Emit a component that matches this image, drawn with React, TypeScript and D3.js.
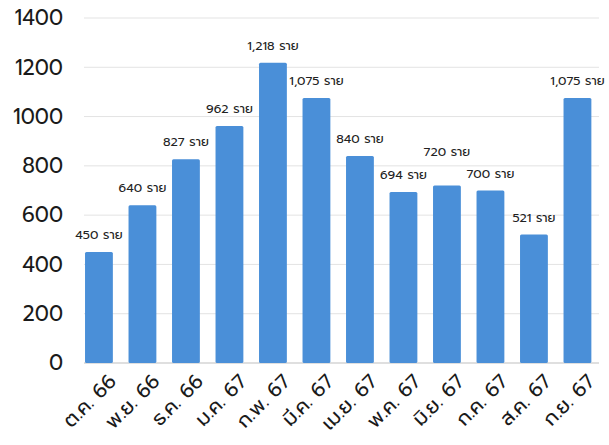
import React from "react";
import * as d3 from "d3";

const months = ["ต.ค. 66", "พ.ย. 66", "ธ.ค. 66", "ม.ค. 67", "ก.พ. 67", "มี.ค. 67", "เม.ย. 67", "พ.ค. 67", "มิ.ย. 67", "ก.ค. 67", "ส.ค. 67", "ก.ย. 67"];
const cases = [450, 640, 827, 962, 1218, 1075, 840, 694, 720, 700, 521, 1075];
const yTicks = [0, 200, 400, 600, 800, 1000, 1200, 1400];
const unit = "ราย";

const W = 609;
const H = 445;
const FONT = "Prompt, Kanit, 'Noto Sans Thai', 'Noto Sans', 'DejaVu Sans', sans-serif";

export default function App() {
  const y = d3.scaleLinear().domain([0, 1400]).range([363, 18]);
  const x = d3
    .scaleBand<string>()
    .domain(months)
    .range([77.2, 599.2])
    .paddingInner(0.36)
    .paddingOuter(0.18);
  const fmt = d3.format(",");
  const raised = new Set(["มิ.ย. 67"]);

  return (
    <svg
      width={W}
      height={H}
      style={{ position: "absolute", left: 0, top: 0, background: "#fff" }}
      fontFamily={FONT}
    >
      {yTicks.map((t) => (
        <g key={t}>
          <line x1={84} x2={599} y1={y(t)} y2={y(t)} stroke={t === 0 ? "#bfbfbf" : "#e3e3e3"} strokeWidth={1} />
          <text x={63} y={y(t)} dy="0.35em" textAnchor="end" fontSize={21} fill="#1a1a1a">
            {t}
          </text>
        </g>
      ))}
      {months.map((m, i) => {
        const bx = x(m)!;
        const bw = x.bandwidth();
        const top = y(cases[i]);
        const cx = bx + bw / 2 + 6;
        return (
          <g key={m}>
            <rect x={bx} y={top} width={bw} height={y(0) - top} fill="#4a8fd8" rx={1.5} />
            <text
              x={bx + bw / 2}
              y={top - (raised.has(m) ? 30 : 13)}
              textAnchor="middle"
              fontSize={12.5}
              fill="#222"
            >
              {fmt(cases[i])} {unit}
            </text>
            <g transform={`translate(${cx},370)`}>
              <g transform="rotate(-45)">
                <text x={0} y={0} textAnchor="end" dominantBaseline="hanging" fontSize={20} fill="#1a1a1a">
                  {m}
                </text>
              </g>
            </g>
          </g>
        );
      })}
    </svg>
  );
}
